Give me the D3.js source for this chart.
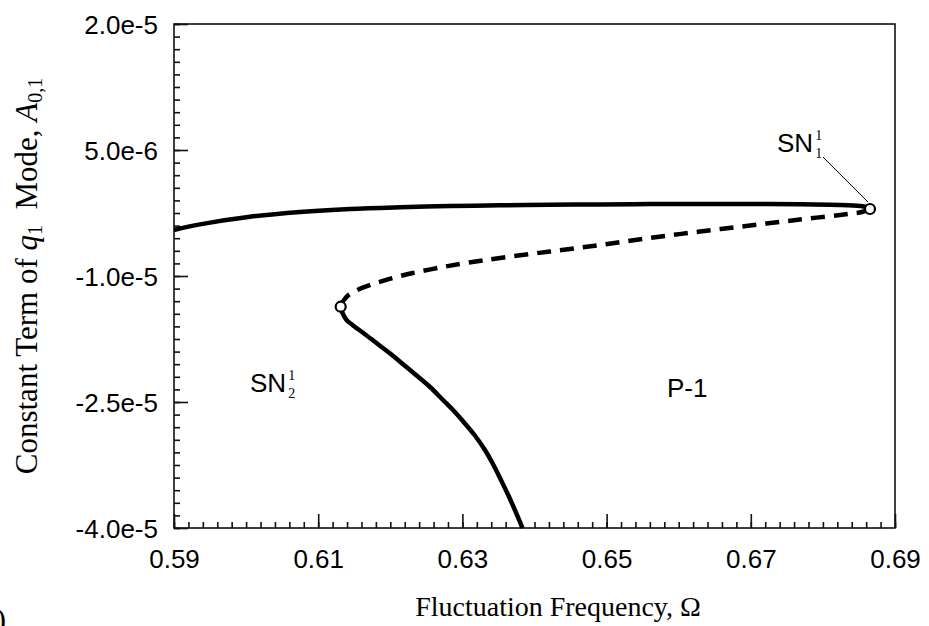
<!DOCTYPE html>
<html>
<head>
<meta charset="utf-8">
<script src="https://cdn.jsdelivr.net/npm/d3@7"></script>
<style>
  html, body { margin: 0; padding: 0; background: #fff; }
  svg { display: block; }
</style>
</head>
<body>
<svg id="chart" width="929" height="626"></svg>
<script>
// Frequency response of the constant term A0,1: stable and unstable P-1 branches
const upperStable = [
  [0.59000, -4.524e-6], [0.59361, -3.857e-6], [0.60054, -2.952e-6], [0.60748, -2.381e-6],
  [0.61441, -2.024e-6], [0.62135, -1.821e-6], [0.62828, -1.679e-6], [0.63522, -1.583e-6],
  [0.64215, -1.524e-6], [0.64909, -1.476e-6], [0.65602, -1.440e-6], [0.66295, -1.429e-6],
  [0.66989, -1.429e-6], [0.67682, -1.464e-6], [0.68237, -1.548e-6], [0.68515, -1.667e-6],
  [0.68598, -1.786e-6], [0.68653, -2.024e-6]
];
const unstable = [
  [0.68653, -2.024e-6], [0.68542, -2.381e-6], [0.68348, -2.619e-6], [0.67682, -3.274e-6],
  [0.66989, -3.988e-6], [0.66295, -4.702e-6], [0.65602, -5.476e-6], [0.64909, -6.310e-6],
  [0.64215, -7.083e-6], [0.63522, -7.857e-6], [0.63064, -8.429e-6], [0.62689, -8.988e-6],
  [0.62315, -9.643e-6], [0.62135, -10.000e-6], [0.61954, -10.440e-6], [0.61788, -10.869e-6],
  [0.61635, -11.333e-6], [0.61510, -11.810e-6], [0.61413, -12.321e-6], [0.61358, -12.857e-6],
  [0.61326, -13.274e-6], [0.61312, -13.655e-6]
];
const lowerStable = [
  [0.61312, -13.655e-6], [0.61322, -14.048e-6], [0.61337, -14.405e-6], [0.61393, -15.238e-6],
  [0.61476, -15.833e-6], [0.61663, -17.024e-6], [0.61843, -18.214e-6], [0.62024, -19.405e-6],
  [0.62190, -20.595e-6], [0.62356, -21.786e-6], [0.62551, -23.214e-6], [0.62731, -24.762e-6],
  [0.62870, -25.952e-6], [0.62994, -27.143e-6], [0.63168, -28.929e-6], [0.63313, -30.714e-6],
  [0.63431, -32.500e-6], [0.63535, -34.286e-6], [0.63667, -36.667e-6], [0.63834, -40.000e-6]
];
// saddle-node bifurcation points
const foldPoints = [
  { name: "SN", sup: "1", sub: "1", x: 0.68653, y: -2.024e-6 },
  { name: "SN", sup: "1", sub: "2", x: 0.61312, y: -13.655e-6 }
];

const xTicks = [0.59, 0.61, 0.63, 0.65, 0.67, 0.69];
const xTickLabels = ["0.59", "0.61", "0.63", "0.65", "0.67", "0.69"];
const yTicks = [2.0e-5, 5.0e-6, -1.0e-5, -2.5e-5, -4.0e-5];
const yTickLabels = ["2.0e-5", "5.0e-6", "-1.0e-5", "-2.5e-5", "-4.0e-5"];

const svg = d3.select("#chart");
const plotLeft = 174, plotRight = 895, plotTop = 24, plotBottom = 528;

const x = d3.scaleLinear().domain([0.59, 0.69]).range([plotLeft, plotRight]);
const y = d3.scaleLinear().domain([-4.0e-5, 2.0e-5]).range([plotBottom, plotTop]);

const sansFont = "'Liberation Sans', Arial, sans-serif";
const serifFont = "'Liberation Serif', 'Times New Roman', serif";

// frame
svg.append("rect")
  .attr("x", plotLeft).attr("y", plotTop)
  .attr("width", plotRight - plotLeft).attr("height", plotBottom - plotTop)
  .attr("fill", "none").attr("stroke", "#111").attr("stroke-width", 1.6);

// minor ticks
const xMinor = d3.range(0, 51).map(i => 0.59 + i * 0.002);
const yMinor = d3.range(0, 41).map(i => -4.0e-5 + i * 1.5e-6);

function styleAxis(g) {
  g.select(".domain").remove();
  g.selectAll(".tick line").attr("stroke", "#111").attr("stroke-width", 1.6);
}

svg.append("g").attr("transform", `translate(0,${plotBottom})`)
  .call(d3.axisBottom(x).tickValues(xMinor).tickSize(-6).tickFormat(""))
  .call(styleAxis);
svg.append("g").attr("transform", `translate(${plotLeft},0)`)
  .call(d3.axisLeft(y).tickValues(yMinor).tickSize(-6).tickFormat(""))
  .call(styleAxis);

// major ticks with labels
const xAxis = svg.append("g").attr("transform", `translate(0,${plotBottom})`)
  .call(d3.axisBottom(x).tickValues(xTicks).tickSize(-14)
    .tickFormat((d, i) => xTickLabels[i]))
  .call(styleAxis);
xAxis.selectAll("text").attr("font-family", sansFont).attr("font-size", 26)
  .attr("fill", "#000").attr("dy", "0").attr("y", 40);

const yAxis = svg.append("g").attr("transform", `translate(${plotLeft},0)`)
  .call(d3.axisLeft(y).tickValues(yTicks).tickSize(-14)
    .tickFormat((d, i) => yTickLabels[i]))
  .call(styleAxis);
yAxis.selectAll("text").attr("font-family", sansFont).attr("font-size", 26)
  .attr("fill", "#000").attr("x", -16).attr("dy", "0.35em");

// branches: solid = stable, dashed = unstable
const line = d3.line().x(d => x(d[0])).y(d => y(d[1])).curve(d3.curveCatmullRom.alpha(0.5));
const curves = svg.append("g").attr("fill", "none").attr("stroke", "#000")
  .attr("stroke-width", 4.5).attr("stroke-linecap", "butt");
curves.append("path").attr("d", line(upperStable));
curves.append("path").attr("d", line(lowerStable));
curves.append("path").attr("d", line(unstable)).attr("stroke-dasharray", "14,9");

// leader line to SN1
svg.append("line")
  .attr("x1", x(foldPoints[0].x) - 47).attr("y1", y(foldPoints[0].y) - 52)
  .attr("x2", x(foldPoints[0].x) - 2).attr("y2", y(foldPoints[0].y) - 7)
  .attr("stroke", "#000").attr("stroke-width", 1);

// fold markers
svg.append("g").selectAll("circle").data(foldPoints).join("circle")
  .attr("cx", d => x(d.x)).attr("cy", d => y(d.y)).attr("r", 5)
  .attr("fill", "#fff").attr("stroke", "#000").attr("stroke-width", 2.2);

// annotation labels
function snLabel(px, py, d) {
  const g = svg.append("g").attr("transform", `translate(${px},${py})`).attr("fill", "#000");
  const t = g.append("text").attr("font-family", sansFont).attr("font-size", 26).text(d.name);
  const w = t.node().getComputedTextLength();
  g.append("text").attr("x", w + 2).attr("y", -12)
    .attr("font-family", serifFont).attr("font-size", 14).text(d.sup);
  g.append("text").attr("x", w + 2).attr("y", 6)
    .attr("font-family", serifFont).attr("font-size", 14).text(d.sub);
}
snLabel(777, 152, foldPoints[0]);
snLabel(250, 392, foldPoints[1]);

svg.append("text").attr("x", 667).attr("y", 397)
  .attr("font-family", sansFont).attr("font-size", 26).text("P-1");

// axis titles
svg.append("text").attr("x", 558).attr("y", 616).attr("text-anchor", "middle")
  .attr("font-family", serifFont).attr("font-size", 28)
  .text("Fluctuation Frequency, \u03A9");

const yTitle = svg.append("text")
  .attr("transform", "translate(37,276) rotate(-90)")
  .attr("text-anchor", "middle")
  .attr("font-family", serifFont).attr("font-size", 31);
yTitle.append("tspan").text("Constant Term of ");
yTitle.append("tspan").attr("font-style", "italic").text("q");
yTitle.append("tspan").attr("font-size", 20).attr("dy", 5).text("1");
yTitle.append("tspan").attr("dy", -5).text("\u2002Mode, ");
yTitle.append("tspan").attr("font-style", "italic").text("A");
yTitle.append("tspan").attr("font-size", 20).attr("dy", 5).text("0,1");

// panel label at the lower-left edge
svg.append("text").attr("x", 6).attr("y", 630).attr("text-anchor", "end")
  .attr("font-family", serifFont).attr("font-size", 31).text(")");
</script>
</body>
</html>
